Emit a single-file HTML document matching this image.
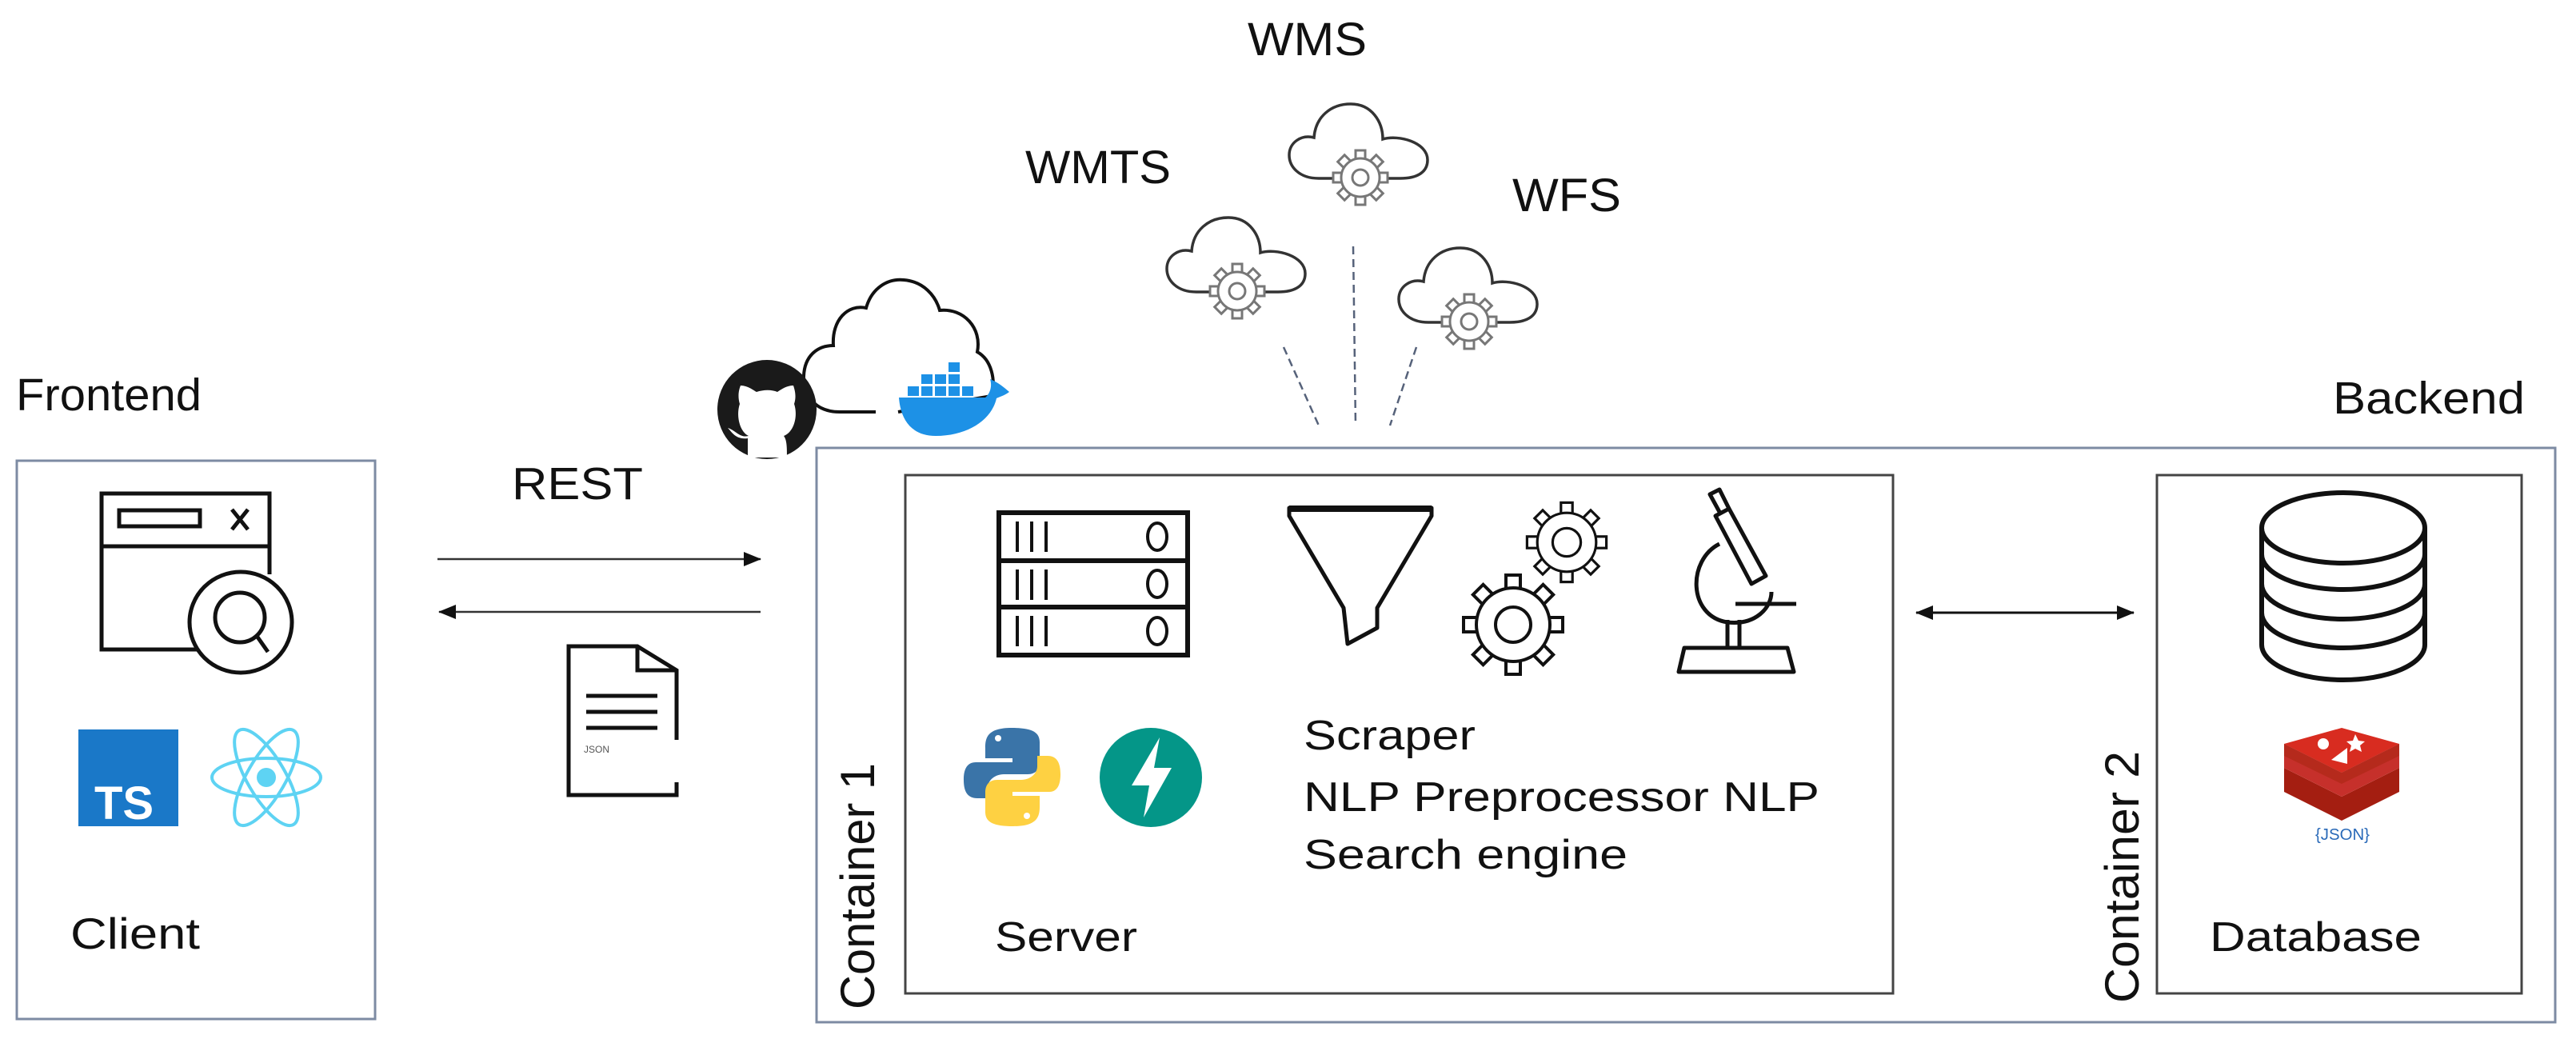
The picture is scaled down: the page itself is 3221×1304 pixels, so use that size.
<!DOCTYPE html>
<html><head><meta charset="utf-8"><style>
html,body{margin:0;padding:0;background:#fff;}
svg{display:block;}
text{font-family:"Liberation Sans",Arial,sans-serif;fill:#111;}
</style></head><body>
<svg width="3221" height="1304" viewBox="0 0 3221 1304" xmlns="http://www.w3.org/2000/svg">
<defs>
<g id="gear">
  <g fill="#fff" stroke="#777" stroke-width="3">
    <rect x="-6" y="-34" width="12" height="14" transform="rotate(0)"/>
    <rect x="-6" y="-34" width="12" height="14" transform="rotate(45)"/>
    <rect x="-6" y="-34" width="12" height="14" transform="rotate(90)"/>
    <rect x="-6" y="-34" width="12" height="14" transform="rotate(135)"/>
    <rect x="-6" y="-34" width="12" height="14" transform="rotate(180)"/>
    <rect x="-6" y="-34" width="12" height="14" transform="rotate(225)"/>
    <rect x="-6" y="-34" width="12" height="14" transform="rotate(270)"/>
    <rect x="-6" y="-34" width="12" height="14" transform="rotate(315)"/>
    <circle r="24"/>
    <circle r="10"/>
  </g>
</g>
<g id="cloud">
  <path d="M70,95 L40,95 C15,95 3,80 3,66 C3,50 18,40 34,44 C36,18 55,2 80,2 C106,2 120,24 120,46 C140,40 176,50 176,72 C176,88 162,95 142,95 L118,95" fill="none" stroke="#333" stroke-width="3.5"/>
</g>
<g id="bgear">
  <g fill="#fff" stroke="#111" stroke-width="4">
    <rect x="-9" y="-62" width="18" height="20"/>
    <rect x="-9" y="-62" width="18" height="20" transform="rotate(45)"/>
    <rect x="-9" y="-62" width="18" height="20" transform="rotate(90)"/>
    <rect x="-9" y="-62" width="18" height="20" transform="rotate(135)"/>
    <rect x="-9" y="-62" width="18" height="20" transform="rotate(180)"/>
    <rect x="-9" y="-62" width="18" height="20" transform="rotate(225)"/>
    <rect x="-9" y="-62" width="18" height="20" transform="rotate(270)"/>
    <rect x="-9" y="-62" width="18" height="20" transform="rotate(315)"/>
    <circle r="46"/>
    <circle r="22"/>
  </g>
</g>
<marker id="ah" markerWidth="10" markerHeight="10" refX="9" refY="5" orient="auto" markerUnits="userSpaceOnUse">
  <path d="M0,0 L10,5 L0,10 z" fill="#111"/>
</marker>
<marker id="ah2" markerWidth="22" markerHeight="18" refX="21" refY="9" orient="auto-start-reverse" markerUnits="userSpaceOnUse">
  <path d="M0,0 L22,9 L0,18 z" fill="#111"/>
</marker>
</defs>

<!-- Top labels -->
<text x="1560" y="69" font-size="58" textLength="149" lengthAdjust="spacingAndGlyphs">WMS</text>
<text x="1282" y="229" font-size="58" textLength="182" lengthAdjust="spacingAndGlyphs">WMTS</text>
<text x="1891" y="264" font-size="58" textLength="136" lengthAdjust="spacingAndGlyphs">WFS</text>

<!-- Clouds -->
<g transform="translate(1609,128)"><use href="#cloud"/></g>
<use href="#gear" transform="translate(1701,222)"/>
<g transform="translate(1456,270)"><use href="#cloud"/></g>
<use href="#gear" transform="translate(1547,364)"/>
<g transform="translate(1746,308)"><use href="#cloud"/></g>
<use href="#gear" transform="translate(1837,402)"/>

<!-- dashed lines -->
<g stroke="#56627a" stroke-width="2.5" stroke-dasharray="10,6">
  <line x1="1605" y1="434" x2="1649" y2="532"/>
  <line x1="1692" y1="308" x2="1695" y2="532"/>
  <line x1="1771" y1="434" x2="1738" y2="532"/>
</g>

<!-- docker cloud -->
<path d="M1095,515 L1050,515 C1020,515 1004,495 1005,470 C1006,445 1022,432 1042,432 C1040,400 1060,380 1083,385 C1090,360 1110,348 1130,350 C1155,352 1170,370 1175,388 C1205,385 1228,410 1222,440 C1240,450 1245,475 1240,495 L1123,515" fill="none" stroke="#111" stroke-width="4"/>
<!-- whale -->
<g fill="#1d91e6">
  <path d="M1124,497 L1232,497 C1240,490 1240,480 1238,474 C1248,478 1255,484 1262,490 C1255,495 1250,496 1246,498 C1240,525 1210,545 1170,545 C1140,545 1126,525 1124,497 z"/>
  <rect x="1135" y="483" width="14" height="12"/><rect x="1152" y="483" width="14" height="12"/><rect x="1169" y="483" width="14" height="12"/><rect x="1186" y="483" width="14" height="12"/><rect x="1203" y="483" width="14" height="12"/>
  <rect x="1152" y="468" width="14" height="12"/><rect x="1169" y="468" width="14" height="12"/><rect x="1186" y="468" width="14" height="12"/>
  <rect x="1186" y="453" width="14" height="12"/>
</g>
<!-- github -->
<circle cx="959" cy="512" r="62" fill="#1a1a1a"/>
<path d="M935,572 L935,548 C920,550 915,540 910,535 C920,538 925,548 936,545 C925,540 920,520 925,505 C922,495 924,487 926,482 C935,482 942,488 946,490 C955,487 965,487 972,490 C978,486 984,482 992,482 C994,488 996,496 993,505 C998,520 993,540 980,545 C984,550 984,560 984,572 z" fill="#fff"/>

<!-- Frontend -->
<text x="20" y="513" font-size="57" textLength="232" lengthAdjust="spacingAndGlyphs">Frontend</text>
<rect x="21" y="576" width="448" height="698" fill="none" stroke="#7d8ba3" stroke-width="3"/>
<!-- browser icon -->
<g fill="none" stroke="#111" stroke-width="5">
  <path d="M268,812 L127,812 L127,617 L337,617 L337,718"/>
  <line x1="127" y1="683" x2="337" y2="683"/>
  <rect x="149" y="638" width="101" height="20"/>
  <path d="M290,637 L310,662 M310,637 L290,662"/>
  <ellipse cx="301" cy="778" rx="64" ry="63" fill="#fff"/>
  <circle cx="300" cy="772" r="31"/>
  <line x1="321" y1="795" x2="335" y2="815"/>
</g>
<!-- TS -->
<rect x="98" y="912" width="125" height="121" fill="#1a78c8"/>
<text x="118" y="1024" font-size="58" font-weight="bold" fill="#fff" style="fill:#fff">TS</text>
<!-- React -->
<g fill="none" stroke="#5ed3f3" stroke-width="4">
  <ellipse cx="333" cy="972" rx="68" ry="24"/>
  <ellipse cx="333" cy="972" rx="68" ry="24" transform="rotate(60 333 972)"/>
  <ellipse cx="333" cy="972" rx="68" ry="24" transform="rotate(-60 333 972)"/>
</g>
<circle cx="333" cy="972" r="12" fill="#5ed3f3"/>
<text x="88" y="1186" font-size="55" textLength="162" lengthAdjust="spacingAndGlyphs">Client</text>

<!-- REST arrows -->
<text x="640" y="624" font-size="57" textLength="164" lengthAdjust="spacingAndGlyphs">REST</text>
<line x1="547" y1="699" x2="951" y2="699" stroke="#333" stroke-width="2.5" marker-end="url(#ah2)"/>
<line x1="951" y1="765" x2="549" y2="765" stroke="#333" stroke-width="2.5" marker-end="url(#ah2)"/>
<!-- JSON doc -->
<g fill="none" stroke="#111" stroke-width="5">
  <path d="M846,978 L846,994 L711,994 L711,808 L797,808 L846,838 L846,925"/>
  <path d="M797,808 L797,838 L846,838"/>
  <line x1="733" y1="870" x2="822" y2="870"/>
  <line x1="733" y1="890" x2="822" y2="890"/>
  <line x1="733" y1="910" x2="822" y2="910"/>
</g>
<text x="730" y="941" font-size="12" fill="#555" style="fill:#555">JSON</text>

<!-- Backend -->
<text x="2917" y="517" font-size="57" textLength="240" lengthAdjust="spacingAndGlyphs">Backend</text>
<rect x="1021" y="560" width="2174" height="718" fill="none" stroke="#7d8ba3" stroke-width="3"/>
<rect x="1132" y="594" width="1235" height="648" fill="none" stroke="#444" stroke-width="3"/>
<rect x="2697" y="594" width="456" height="648" fill="none" stroke="#444" stroke-width="3"/>
<text transform="translate(1093,1262) rotate(-90)" font-size="60" textLength="308" lengthAdjust="spacingAndGlyphs">Container 1</text>
<text transform="translate(2674,1254) rotate(-90)" font-size="60" textLength="315" lengthAdjust="spacingAndGlyphs">Container 2</text>

<!-- rack -->
<g fill="none" stroke="#111" stroke-width="6">
  <rect x="1249" y="641" width="236" height="178"/>
  <line x1="1249" y1="701" x2="1485" y2="701"/>
  <line x1="1249" y1="759" x2="1485" y2="759"/>
  <g stroke-width="4">
    <path d="M1272,652 v38 M1290,652 v38 M1308,652 v38"/>
    <path d="M1272,712 v38 M1290,712 v38 M1308,712 v38"/>
    <path d="M1272,770 v38 M1290,770 v38 M1308,770 v38"/>
    <ellipse cx="1447" cy="671" rx="12" ry="17"/>
    <ellipse cx="1447" cy="730" rx="12" ry="17"/>
    <ellipse cx="1447" cy="789" rx="12" ry="17"/>
  </g>
</g>
<!-- funnel -->
<path d="M1612,635 L1790,635 L1790,645 L1722,760 L1722,785 L1685,805 L1680,760 L1612,645 z" fill="none" stroke="#111" stroke-width="5" stroke-linejoin="round"/>
<line x1="1612" y1="636" x2="1790" y2="636" stroke="#111" stroke-width="8"/>
<!-- gears -->
<use href="#bgear" transform="translate(1892,781)"/>
<use href="#bgear" transform="translate(1959,678) scale(0.8)"/>
<!-- microscope -->
<g fill="none" stroke="#111" stroke-width="5" stroke-linejoin="round">
  <path d="M2099,840 L2243,840 L2235,810 L2106,810 z"/>
  <path d="M2160,810 L2160,775 M2175,810 L2175,775"/>
  <path d="M2150,680 C2110,700 2110,770 2160,778 C2195,782 2215,760 2215,740"/>
  <path d="M2170,755 L2246,755"/>
  <path d="M2145,645 L2162,636 L2208,720 L2190,730 z"/>
  <path d="M2150,640 L2138,618 L2150,612 L2162,636"/>
</g>
<!-- python -->
<path d="M1265,910 C1235,910 1232,922 1232,935 L1232,948 L1266,948 L1266,953 L1220,953 C1205,953 1205,970 1205,975 C1205,990 1210,998 1222,998 L1235,998 L1235,985 C1235,975 1245,968 1255,968 L1285,968 C1295,968 1300,962 1300,952 L1300,928 C1300,915 1290,910 1265,910 z" fill="#3a74a8"/>
<path d="M1267,1033 C1297,1033 1300,1021 1300,1008 L1300,995 L1266,995 L1266,990 L1312,990 C1325,990 1326,975 1326,968 C1326,953 1321,945 1310,945 L1297,945 L1297,958 C1297,968 1287,975 1277,975 L1247,975 C1237,975 1232,981 1232,991 L1232,1015 C1232,1028 1242,1033 1267,1033 z" fill="#fed142"/>
<circle cx="1248" cy="923" r="4" fill="#fff"/><circle cx="1284" cy="1020" r="4" fill="#fff"/>
<!-- fastapi -->
<ellipse cx="1439" cy="972" rx="64" ry="62" fill="#049688"/>
<path d="M1450,922 L1415,982 L1437,982 L1430,1022 L1465,960 L1443,960 z" fill="#fff"/>
<!-- texts -->
<text x="1630" y="937" font-size="52" textLength="215" lengthAdjust="spacingAndGlyphs">Scraper</text>
<text x="1630" y="1014" font-size="52" textLength="645" lengthAdjust="spacingAndGlyphs">NLP Preprocessor NLP</text>
<text x="1630" y="1086" font-size="52" textLength="405" lengthAdjust="spacingAndGlyphs">Search engine</text>
<text x="1244" y="1189" font-size="52" textLength="178" lengthAdjust="spacingAndGlyphs">Server</text>
<text x="2763" y="1189" font-size="52" textLength="265" lengthAdjust="spacingAndGlyphs">Database</text>

<!-- double arrow -->
<line x1="2396" y1="766" x2="2668" y2="766" stroke="#111" stroke-width="3" marker-start="url(#ah2)" marker-end="url(#ah2)"/>

<!-- database -->
<g fill="#fff" stroke="#111" stroke-width="6">
  <path d="M2828,660 L2828,806 A102,44 0 0 0 3032,806 L3032,660"/>
  <path d="M2828,693 A102,44 0 0 0 3032,693" fill="none"/>
  <path d="M2828,730 A102,44 0 0 0 3032,730" fill="none"/>
  <path d="M2828,766 A102,44 0 0 0 3032,766" fill="none"/>
  <ellipse cx="2930" cy="660" rx="102" ry="44"/>
</g>
<!-- redis -->
<g>
  <path d="M2856,990 L2928,1026 L3000,990 L3000,960 L2928,996 L2856,960 z" fill="#a41e11"/>
  <path d="M2856,960 L2928,996 L3000,960 L3000,930 L2928,966 L2856,930 z" fill="#c6302b"/>
  <path d="M2856,930 L2928,966 L3000,930 L2928,910 z" fill="#d82c20"/>
  <path d="M2856,930 L2928,966 L3000,930 L3000,945 L2928,980 L2856,945 z" fill="#b52a1c"/>
  <circle cx="2905" cy="930" r="7" fill="#fff"/>
  <path d="M2945,918 l4,8 8,1 -6,5 2,8 -8,-4 -7,4 2,-8 -6,-5 8,-1z" fill="#fff"/>
  <path d="M2915,950 L2935,935 L2935,955 z" fill="#fff"/>
</g>
<text x="2895" y="1050" font-size="20" fill="#2a6ab8" style="fill:#2a6ab8" textLength="68" lengthAdjust="spacingAndGlyphs">{JSON}</text>
</svg>
</body></html>
